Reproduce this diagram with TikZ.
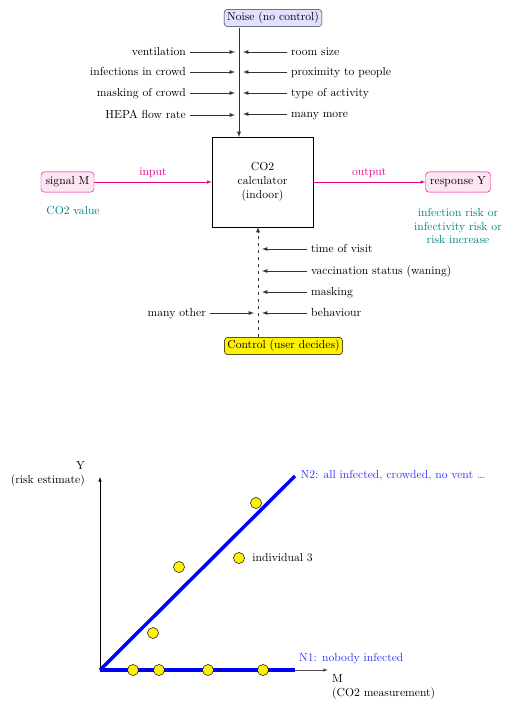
\documentclass[tikz,border=0pt]{standalone}
\usetikzlibrary{positioning}
\begin{document}
\begin{tikzpicture}[x=0.86pt, y=-0.86pt, >=latex,
    tag/.style={draw, rounded corners=3pt, inner sep=2.5pt},
    side/.style={text height=1.5ex, text depth=.25ex},
    feed/.style={->, black!80, semithick, shorten >=3.5pt},
    dot/.style={circle, draw, fill=yellow, minimum size=9.5pt, inner sep=0pt},
    band/.style={blue, line width=3pt}]
      \useasboundingbox (0, 0) rectangle (515, 713);

      % block diagram
      \node [tag, draw=black!80, fill=blue!12] (noise) at (273, 18) {Noise (no control)};
      \node [draw, minimum width=87pt, minimum height=77pt, align=center] (calc) at (262.5, 182) {CO2\\calculator\\(indoor)};
      \node [tag, draw=magenta, fill=magenta!10, minimum height=17.5pt, inner xsep=4pt] (signal) at (67.5, 182) {signal M};
      \node [tag, draw=magenta, fill=magenta!10, minimum height=17.5pt, inner xsep=4pt] (response) at (458, 182) {response Y};
      \node [tag, fill=yellow] (control) at (283.5, 346) {Control (user decides)};

      \coordinate (ntop) at (239, 28);
      \coordinate (ctrl) at (258, 337);
      \draw [->, black!80, semithick] (ntop) -- (ntop |- calc.north);
      \draw [->, black!80, semithick, dashed] (ctrl) -- (ctrl |- calc.south);

      \draw [->, magenta] (signal) -- (calc) node [midway, above] {input};
      \draw [->, magenta] (calc) -- (response) node [midway, above] {output};
      \node [teal] (co2) at (73, 211) {CO2 value};
      \node [teal, align=center] (risk) at (458, 226) {infection risk or\\infectivity risk or\\risk increase};

      % noise factors
      \node [side, left] (vent) at (190, 52) {ventilation};
      \node [side, left] (infect) at (190, 72) {infections in crowd};
      \node [side, left] (maskcrowd) at (190, 93) {masking of crowd};
      \node [side, left] (hepa) at (190, 115) {HEPA flow rate};
      \node [side, right] (room) at (287, 52) {room size};
      \node [side, right] (prox) at (287, 72) {proximity to people};
      \node [side, right] (activity) at (287, 93) {type of activity};
      \node [side, right] (more) at (287, 114) {many more};
      \draw [feed] (vent) -- (vent -| ntop);
      \draw [feed] (infect) -- (infect -| ntop);
      \draw [feed] (maskcrowd) -- (maskcrowd -| ntop);
      \draw [feed] (hepa) -- (hepa -| ntop);
      \draw [feed] (room) -- (room -| ntop);
      \draw [feed] (prox) -- (prox -| ntop);
      \draw [feed] (activity) -- (activity -| ntop);
      \draw [feed] (more) -- (more -| ntop);

      % control factors
      \node [side, right] (visit) at (307, 249) {time of visit};
      \node [side, right] (vacc) at (307, 271) {vaccination status (waning)};
      \node [side, right] (masking) at (307, 292) {masking};
      \node [side, right] (behave) at (307, 313) {behaviour};
      \node [side, left] (other) at (210, 313) {many other};
      \draw [feed] (visit) -- (visit -| ctrl);
      \draw [feed] (vacc) -- (vacc -| ctrl);
      \draw [feed] (masking) -- (masking -| ctrl);
      \draw [feed] (behave) -- (behave -| ctrl);
      \draw [feed] (other) -- (other -| ctrl);

      % risk plot
      \coordinate (O) at (100, 670);
      \coordinate (ytip) at (100, 477);
      \coordinate (xtip) at (328, 670);
      \coordinate (n1) at (295, 670);
      \coordinate (n2) at (295, 476);
      \draw [->] (O) -- (ytip);
      \draw [->, black!70] (O) -- (xtip);
      \node [align=right, anchor=east] (ylab) at (89, 474) {Y\\(risk estimate)};
      \node [align=left, anchor=north west] (xlab) at (xtip) {M\\(CO2 measurement)};

      \draw [band] (O) -- (n2) node [right, blue!80] {N2: all infected, crowded, no vent \dots};
      \draw [band] (O) -- (n1);
      \node [anchor=west, blue!80] (n1lab) at (295, 659) {N1: nobody infected};

      \node [dot] (d1) at (133, 670) {};
      \node [dot] (d2) at (159, 670) {};
      \node [dot] (d3) at (208, 670) {};
      \node [dot] (d4) at (263, 670) {};
      \node [dot] (d5) at (153, 633) {};
      \node [dot] (d6) at (179, 567) {};
      \node [dot] (d7) at (239, 558) {};
      \node [dot] (d8) at (256, 503) {};
      \node [right, xshift=3pt] (ind) at (d7.east) {individual 3};
    \end{tikzpicture}
\end{document}
